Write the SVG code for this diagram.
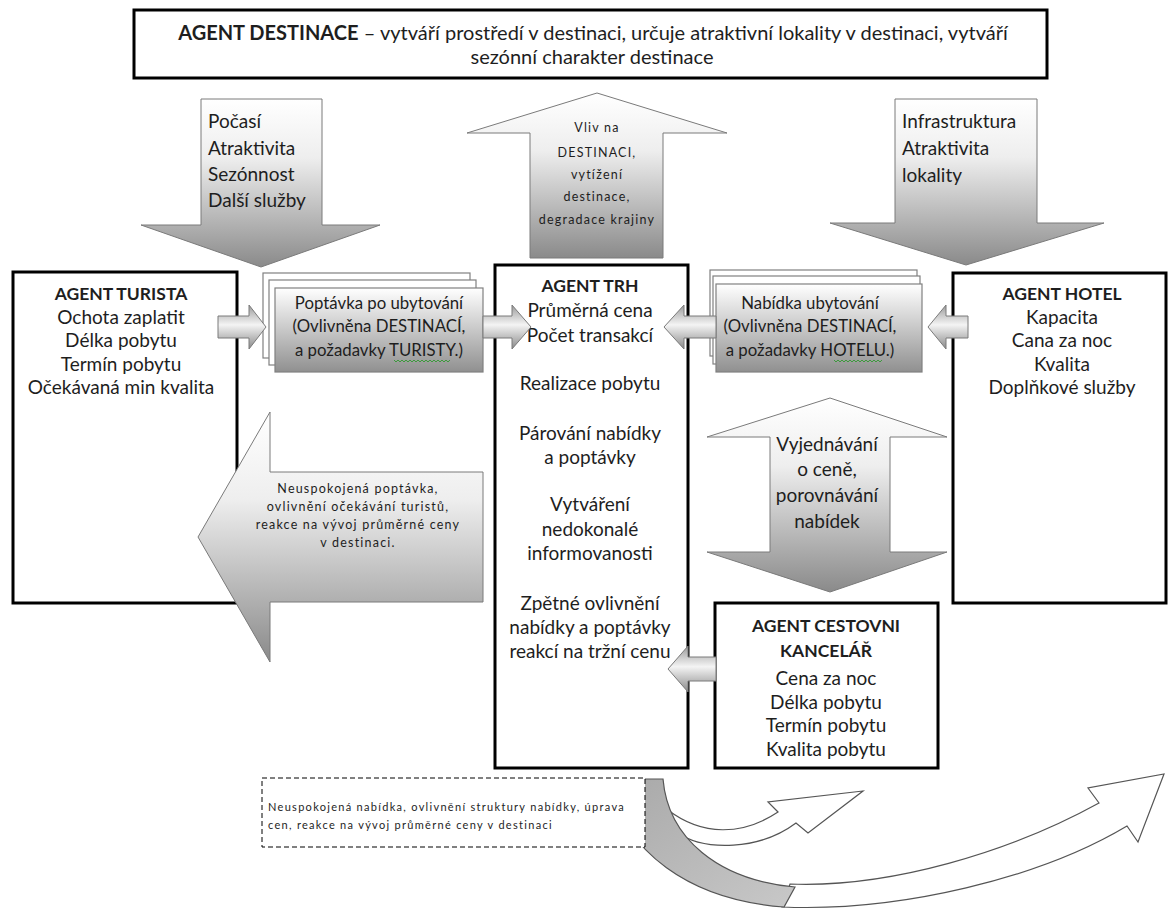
<svg xmlns="http://www.w3.org/2000/svg" width="1169" height="910" viewBox="0 0 1169 910">
<defs>
<linearGradient id="gV" x1="0" y1="0" x2="0" y2="1"><stop offset="0" stop-color="#ffffff"/><stop offset="0.35" stop-color="#eeeeee"/><stop offset="1" stop-color="#8a8a8a"/></linearGradient>
<linearGradient id="gBox" x1="0" y1="0" x2="0" y2="1"><stop offset="0" stop-color="#ffffff"/><stop offset="1" stop-color="#909090"/></linearGradient>
<linearGradient id="gPipe" x1="0" y1="0" x2="0" y2="1"><stop offset="0" stop-color="#9a9a9a"/><stop offset="0.45" stop-color="#f4f4f4"/><stop offset="1" stop-color="#8a8a8a"/></linearGradient>
<linearGradient id="gCurve" x1="0" y1="0" x2="1" y2="1"><stop offset="0" stop-color="#a8a8a8"/><stop offset="1" stop-color="#c8c8c8"/></linearGradient>
<style>
.box{fill:#fff;stroke:#000;stroke-width:3}
.t{font-family:Lato,"Liberation Sans",sans-serif;fill:#1e1e1e}
.b{font-weight:bold;font-size:17.5px}
.m{text-anchor:middle}
.big{font-size:19px}
.hdr{font-size:20px}
.mid{font-size:16.8px}
.sm{font-size:12.5px;letter-spacing:1.2px}
.lt{font-size:12.5px;letter-spacing:1.2px}
.arr{fill:url(#gV);stroke:#7a7a7a;stroke-width:1}
.pipe{fill:url(#gPipe);stroke:#7a7a7a;stroke-width:1}
.back{fill:#fff;stroke:#808080;stroke-width:1.2}
.front{fill:url(#gBox);stroke:#808080;stroke-width:1.2}
.cw{fill:#fff;stroke:#555;stroke-width:1.2}
.cg{fill:url(#gCurve);stroke:#555;stroke-width:1.2}
.sq{fill:none;stroke:#3c9a3c;stroke-width:1}
</style>
</defs>

<g id="agent-destinace">
<rect class="box" x="134" y="10" width="913" height="68"/>
<text class="t hdr m" x="593" y="40"><tspan font-weight="bold">AGENT DESTINACE</tspan> – vytváří prostředí v destinaci, určuje atraktivní lokality v destinaci, vytváří</text>
<text class="t hdr m" x="592" y="64">sezónní charakter destinace</text>
</g>

<g id="agent-turista">
<rect class="box" x="13" y="272" width="224" height="331"/>
<text class="t b m" x="121" y="300">AGENT TURISTA</text>
<text class="t big m" x="121" y="324">Ochota zaplatit</text>
<text class="t big m" x="121" y="347">Délka pobytu</text>
<text class="t big m" x="121" y="371">Termín pobytu</text>
<text class="t big m" x="121" y="394">Očekávaná min kvalita</text>
</g>

<g id="agent-trh">
<rect class="box" x="495" y="265" width="193" height="503"/>
<text class="t b m" x="590" y="292">AGENT TRH</text>
<text class="t big m" x="590" y="317">Průměrná cena</text>
<text class="t big m" x="590" y="342">Počet transakcí</text>
<text class="t big m" x="590" y="390">Realizace pobytu</text>
<text class="t big m" x="590" y="440">Párování nabídky</text>
<text class="t big m" x="590" y="464">a poptávky</text>
<text class="t big m" x="590" y="511">Vytváření</text>
<text class="t big m" x="590" y="536">nedokonalé</text>
<text class="t big m" x="590" y="560">informovanosti</text>
<text class="t big m" x="590" y="610">Zpětné ovlivnění</text>
<text class="t big m" x="590" y="634">nabídky a poptávky</text>
<text class="t big m" x="590" y="658">reakcí na tržní cenu</text>
</g>

<g id="agent-hotel">
<rect class="box" x="953" y="273" width="213" height="330"/>
<text class="t b m" x="1062" y="300">AGENT HOTEL</text>
<text class="t big m" x="1062" y="324">Kapacita</text>
<text class="t big m" x="1062" y="347">Cana za noc</text>
<text class="t big m" x="1062" y="371">Kvalita</text>
<text class="t big m" x="1062" y="394">Doplňkové služby</text>
</g>

<g id="agent-cestovni-kancelar">
<rect class="box" x="715" y="603" width="223" height="165"/>
<text class="t b m" x="826" y="632">AGENT CESTOVNI</text>
<text class="t b m" x="826" y="657">KANCELÁŘ</text>
<text class="t big m" x="826" y="685">Cena za noc</text>
<text class="t big m" x="826" y="709">Délka pobytu</text>
<text class="t big m" x="826" y="732">Termín pobytu</text>
<text class="t big m" x="826" y="756">Kvalita pobytu</text>
</g>

<g id="poptavka">
<rect class="back" x="263" y="273" width="207" height="85"/>
<rect class="back" x="269" y="280" width="207" height="85"/>
<rect class="front" x="275" y="288" width="208" height="84"/>
<text class="t mid m" x="379" y="309">Poptávka po ubytování</text>
<text class="t mid m" x="379" y="332">(Ovlivněna DESTINACÍ,</text>
<text class="t mid m" x="379" y="356">a požadavky TURISTY.)</text>
<polyline class="sq" points="394,360 396,362 398,360 400,362 402,360 404,362 406,360 408,362 410,360 412,362 414,360 416,362 418,360 420,362 422,360 424,362 426,360 428,362 430,360 432,362 434,360 436,362 438,360 440,362 442,360 444,362 446,360 448,362 450,360"/>
</g>

<g id="nabidka">
<rect class="back" x="710" y="270" width="207" height="86"/>
<rect class="back" x="713" y="276" width="207" height="88"/>
<rect class="front" x="716" y="284" width="206" height="88"/>
<text class="t mid m" x="810" y="309">Nabídka ubytování</text>
<text class="t mid m" x="810" y="332">(Ovlivněna DESTINACÍ,</text>
<text class="t mid m" x="810" y="356">a požadavky HOTELU.)</text>
<polyline class="sq" points="834,360 836,362 838,360 840,362 842,360 844,362 846,360 848,362 850,360 852,362 854,360 856,362 858,360 860,362 862,360 864,362 866,360 868,362 870,360 872,362 874,360 876,362 878,360 880,362 882,360"/>
</g>

<g id="connectors">
<g id="arrow-pocasi">
<polygon class="arr" points="201,99 322,99 322,225 380,225 261,267 141,225 201,225"/>
<text class="t big" x="208" y="128">Počasí</text>
<text class="t big" x="208" y="155">Atraktivita</text>
<text class="t big" x="208" y="181">Sezónnost</text>
<text class="t big" x="208" y="207">Další služby</text>
</g>
<g id="arrow-vliv">
<polygon class="arr" points="597,93 727,133 663,133 663,258 530,258 530,133 467,133"/>
<text class="t sm m" x="597" y="132">Vliv na</text>
<text class="t sm m" x="597" y="157">DESTINACI,</text>
<text class="t sm m" x="597" y="179">vytížení</text>
<text class="t sm m" x="597" y="201">destinace,</text>
<text class="t sm m" x="597" y="224">degradace krajiny</text>
</g>
<g id="arrow-infrastruktura">
<polygon class="arr" points="895,99 1037,99 1037,223 1104,223 966,265 830,223 895,223"/>
<text class="t big" x="902" y="128">Infrastruktura</text>
<text class="t big" x="902" y="155">Atraktivita</text>
<text class="t big" x="902" y="182">lokality</text>
</g>
<polygon class="pipe" points="218,316 249,316 249,305 266,327 249,349 249,338 218,338"/>
<polygon class="pipe" points="483,316 512,316 512,305 531,327 512,349 512,338 483,338"/>
<polygon class="pipe" points="716,316 684,316 684,305 664,327 684,349 684,338 716,338"/>
<polygon class="pipe" points="968,316 946,316 946,305 928,327 946,349 946,338 968,338"/>
<polygon class="pipe" points="716,657 688,657 688,646 668,669 688,692 688,681 716,681"/>
<g id="arrow-neuspokojena-poptavka">
<polygon class="arr" points="198,537 270,412 270,472 483,472 483,602 270,602 270,662"/>
<text class="t lt m" x="358" y="493">Neuspokojená poptávka,</text>
<text class="t lt m" x="358" y="511">ovlivnění očekávání turistů,</text>
<text class="t lt m" x="358" y="529">reakce na vývoj průměrné ceny</text>
<text class="t lt m" x="358" y="547">v destinaci.</text>
</g>
<g id="arrow-vyjednavani">
<polygon class="arr" points="830,398 947,437 890,437 890,552 947,552 830,592 707,552 770,552 770,437 707,437"/>
<text class="t big m" x="827" y="451">Vyjednávání</text>
<text class="t big m" x="827" y="476">o ceně,</text>
<text class="t big m" x="827" y="502">porovnávání</text>
<text class="t big m" x="827" y="528">nabídek</text>
</g>
<g id="curved-arrows">
<path class="cw" d="M 790 884 C 890 888 1010 852 1099 803 L 1088 788 L 1164 774 L 1138 842 L 1127 826 C 1040 878 900 912 782 907 Z"/>
<path class="cw" d="M 668 810 C 702 836 742 836 778 812 L 768 802 L 863 791 L 808 833 L 796 823 C 760 850 705 852 676 832 Z"/>
<path class="cg" d="M 609 779 L 663 779 C 668 838 718 880 795 887 L 784 907 C 690 900 623 852 609 779 Z"/>
</g>
</g>

<g id="poznamka">
<rect x="262" y="778" width="383" height="69" fill="#fff" stroke="#000" stroke-width="1" stroke-dasharray="5,3"/>
<text class="t" font-size="11" letter-spacing="1.3" x="268" y="811">Neuspokojená nabídka, ovlivnění struktury nabídky, úprava</text>
<text class="t" font-size="11" letter-spacing="1.3" x="268" y="829">cen, reakce na vývoj průměrné ceny v destinaci</text>
</g>
</svg>
